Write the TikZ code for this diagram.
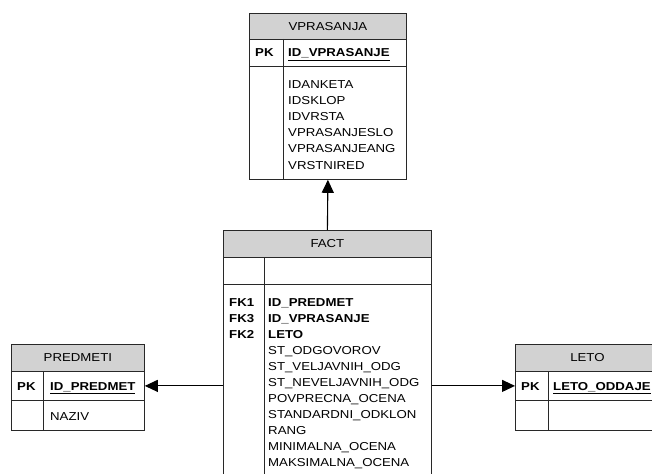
\documentclass[tikz,border=0pt]{standalone}
\usepackage{fontspec}
\setmainfont[FakeStretch=1.15]{Liberation Sans}
\usetikzlibrary{arrows.meta}
\definecolor{headgray}{RGB}{210,210,210}
\definecolor{linegray}{RGB}{40,40,40}
\begin{document}
\begin{tikzpicture}[x=1pt,y=-1pt,
  font=\fontsize{11.5}{16}\selectfont,
  tbox/.style={draw=linegray, line width=0.8pt, inner sep=0pt, anchor=north west},
  headbox/.style={tbox, fill=headgray},
  txt/.style={inner sep=0pt, anchor=base west},
  ktxt/.style={txt, font=\fontsize{11.5}{16}\selectfont\bfseries},
  divline/.style={draw=linegray, line width=0.8pt},
  arr/.style={-{Triangle[length=13pt,width=12pt]}, line width=1.1pt, draw=black}]
\clip (0,0) rectangle (652,473);
\fill[white] (0,0) rectangle (652,473);

% ---------- VPRASANJA ----------
\node[headbox, minimum width=157pt, minimum height=26pt] (vh) at (249,13) {VPRASANJA};
\node[tbox, minimum width=157pt, minimum height=27pt] (vpk) at (249,39) {};
\node[tbox, minimum width=157pt, minimum height=113pt] (vb) at (249,66) {};
\draw[divline] ([xshift=34pt]vpk.north west) -- ([xshift=34pt]vb.south west);
\node[ktxt] (vpkl) at (255,57) {PK};
\node[ktxt] (vpkf) at (288,57) {\underline{ID\_VPRASANJE}};
\foreach \t [count=\i] in {IDANKETA,IDSKLOP,IDVRSTA,VPRASANJESLO,VPRASANJEANG,VRSTNIRED}
  \node[txt] (va\i) at (288,{89+16*(\i-1)}) {\t};

% ---------- FACT ----------
\node[headbox, minimum width=208pt, minimum height=27pt] (fh) at (223,230) {FACT};
\node[tbox, minimum width=208pt, minimum height=27pt] (fpk) at (223,257) {};
\node[tbox, minimum width=208pt, minimum height=200pt] (fb) at (223,284) {};
\draw[divline] ([xshift=41pt]fpk.north west) -- ([xshift=41pt]fb.south west);
\node[ktxt] (fk1) at (229,306) {FK1};
\node[ktxt] (fk3) at (229,322) {FK3};
\node[ktxt] (fk2) at (229,338) {FK2};
\node[ktxt] (ff1) at (268,306) {ID\_PREDMET};
\node[ktxt] (ff2) at (268,322) {ID\_VPRASANJE};
\node[ktxt] (ff3) at (268,338) {LETO};
\foreach \t [count=\i] in {ST\_ODGOVOROV,ST\_VELJAVNIH\_ODG,ST\_NEVELJAVNIH\_ODG,POVPRECNA\_OCENA,STANDARDNI\_ODKLON,RANG,MINIMALNA\_OCENA,MAKSIMALNA\_OCENA}
  \node[txt] (fa\i) at (268,{354+16*(\i-1)}) {\t};

% ---------- PREDMETI ----------
\node[headbox, minimum width=133pt, minimum height=27pt] (ph) at (11,344) {PREDMETI};
\node[tbox, minimum width=133pt, minimum height=29pt] (ppk) at (11,371) {};
\node[tbox, minimum width=133pt, minimum height=30pt] (pb) at (11,400) {};
\draw[divline] ([xshift=32pt]ppk.north west) -- ([xshift=32pt]pb.south west);
\node[ktxt] (ppkl) at (17,390) {PK};
\node[ktxt] (ppkf) at (50,390) {\underline{ID\_PREDMET}};
\node[txt] (pn) at (50,420) {NAZIV};

% ---------- LETO ----------
\node[headbox, minimum width=144pt, minimum height=27pt] (lh) at (515,344) {LETO};
\node[tbox, minimum width=144pt, minimum height=29pt] (lpk) at (515,371) {};
\node[tbox, minimum width=144pt, minimum height=30pt] (lb) at (515,400) {};
\draw[divline] ([xshift=33pt]lpk.north west) -- ([xshift=33pt]lb.south west);
\node[ktxt] (lpkl) at (521,390) {PK};
\node[ktxt] (lpkf) at (553,390) {\underline{LETO\_ODDAJE}};

% ---------- connectors ----------
\draw[arr] (fh.north) -- (vb.south);
\draw[arr] (fb.west |- ppk.east) -- (ppk.east);
\draw[arr] (fb.east |- lpk.west) -- (lpk.west);
\end{tikzpicture}
\end{document}
